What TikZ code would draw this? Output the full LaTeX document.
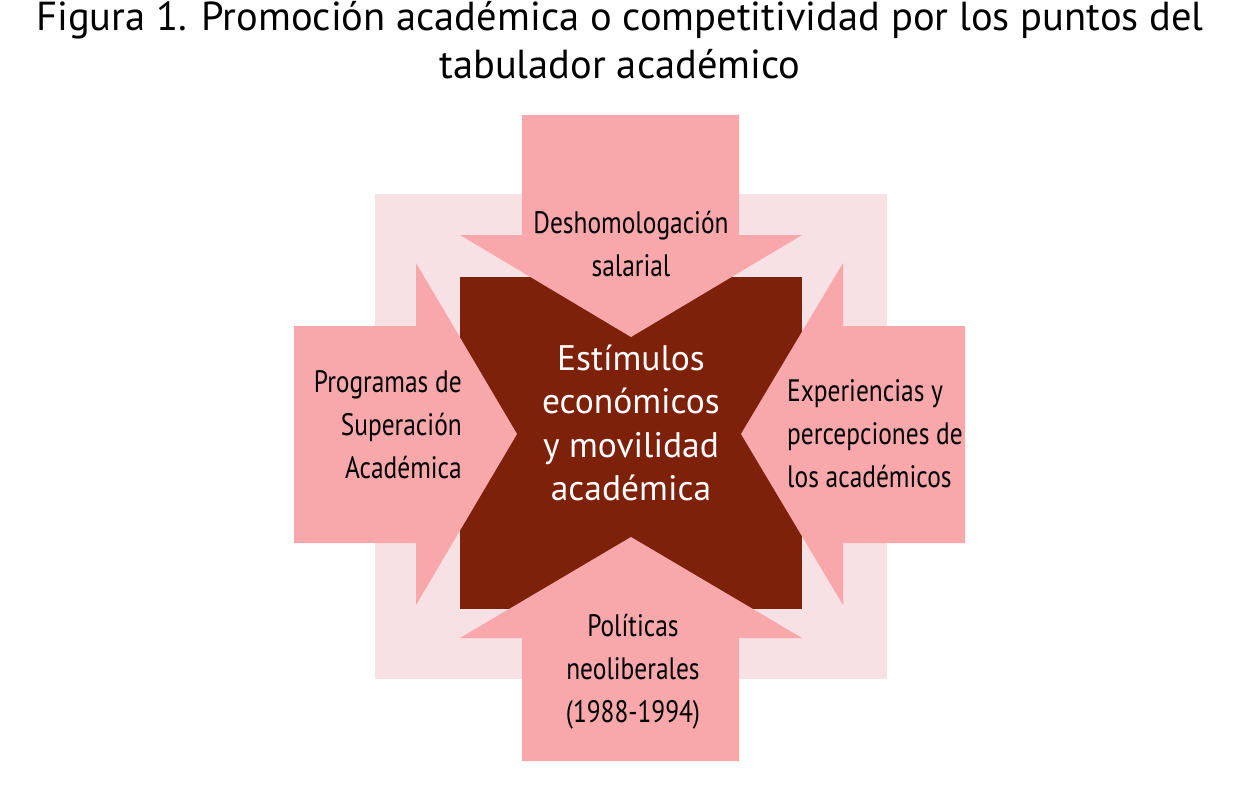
\documentclass[tikz,border=0pt]{standalone}
\usepackage{fontspec}
\setmainfont{PT Sans}
\newfontfamily\narrowfont[FakeStretch=0.82]{PT Sans}
\definecolor{bgpink}{HTML}{F7E1E4}
\definecolor{arrowpink}{HTML}{F8A8AB}
\definecolor{darkbrown}{HTML}{7E210A}
\begin{document}
\begin{tikzpicture}[x=1pt,y=-1pt,
  arrowshape/.style={fill=arrowpink},
  lbl/.style={inner sep=0pt,font=\narrowfont\fontsize{31}{43}\selectfont,text=black},
  centerlbl/.style={inner sep=0pt,align=center,font=\fontsize{35.5}{43.5}\selectfont,text=white},
  titlelbl/.style={inner sep=0pt,align=center,font=\fontsize{40.5}{48}\selectfont}]
\useasboundingbox (0,0) rectangle (1240,797);
% background square
\fill[bgpink] (375,194) rectangle (887,679);
% central block
\fill[darkbrown] (460,277) rectangle (802,609);
% arrows
\fill[arrowshape] (522,115) -- (739,115) -- (739,235) -- (802,235) -- (631,337) -- (460,235) -- (522,235) -- cycle;
\fill[arrowshape] (522,761) -- (739,761) -- (739,638) -- (802,638) -- (631,537) -- (460,638) -- (522,638) -- cycle;
\fill[arrowshape] (294,326) -- (416,326) -- (416,263) -- (517,434) -- (416,605) -- (416,543) -- (294,543) -- cycle;
\fill[arrowshape] (965,326) -- (843,326) -- (843,263) -- (741,434) -- (843,605) -- (843,543) -- (965,543) -- cycle;
% title
\node[titlelbl] (title) at (620,40) {Figura 1. Promoción académica o competitividad por los puntos del\\tabulador académico};
% labels
\node[lbl,align=center] (top) at (631,244) {Deshomologación\\salarial};
\node[lbl,align=center] (bottom) at (633,672) {Políticas\\neoliberales\\(1988-1994)};
\node[lbl,align=right,anchor=east] (left) at (462,425) {Programas de\\Superación\\Académica};
\node[lbl,align=left,anchor=west] (right) at (787,434) {Experiencias y\\percepciones de\\los académicos};
\node[centerlbl] (center) at (631,423) {Estímulos\\económicos\\y movilidad\\académica};
\end{tikzpicture}
\end{document}
